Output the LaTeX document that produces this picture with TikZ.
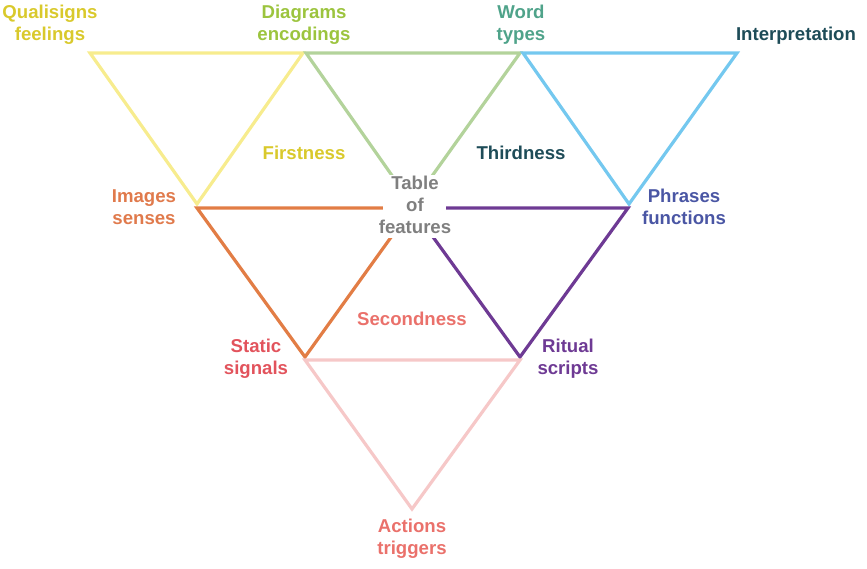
\documentclass[tikz,border=0pt]{standalone}
\usepackage{fontspec}
\setmainfont{Liberation Sans}
\definecolor{cYelLine}{HTML}{F7EC8E}
\definecolor{cYelText}{HTML}{D9C92C}
\definecolor{cGrnLine}{HTML}{B3D39B}
\definecolor{cGrnText}{HTML}{9CC43E}
\definecolor{cTeal}{HTML}{4FA38A}
\definecolor{cDark}{HTML}{1E4C58}
\definecolor{cBlueLine}{HTML}{74C8EF}
\definecolor{cIndigo}{HTML}{4A56A4}
\definecolor{cPurple}{HTML}{6E3A94}
\definecolor{cOrange}{HTML}{E27D45}
\definecolor{cOrText}{HTML}{E07A4C}
\definecolor{cRed}{HTML}{E2535C}
\definecolor{cSalmon}{HTML}{EA716B}
\definecolor{cPink}{HTML}{F6C8C8}
\definecolor{cGray}{HTML}{7F7F7F}
\begin{document}
\begin{tikzpicture}[x=1pt,y=-1pt,
  tri/.style={line width=3.2pt,line join=miter},
  lbl/.style={font=\fontsize{18.6}{22}\selectfont\bfseries,align=center,inner sep=0pt}]
\useasboundingbox (0,0) rectangle (867,568);
% triangles
\draw[tri,cYelLine] (90,53) -- (303,53) -- (197,204) -- cycle;
\draw[tri,cGrnLine] (306,53) -- (520,53) -- (412,204) -- cycle;
\draw[tri,cBlueLine] (523,53) -- (737,53) -- (629,204) -- cycle;
\draw[tri,cOrange] (197,208) -- (412,208) -- (305,357) -- cycle;
\draw[tri,cPurple] (412,208) -- (628,208) -- (520,357) -- cycle;
\draw[tri,cPink] (305,360) -- (520,360) -- (412,509) -- cycle;
% centre cover
\node[fill=white,minimum width=63pt,minimum height=63pt,inner sep=0pt] (cover) at (414.5,206.5) {};
\node[lbl,text=cGray] (table) at (415,205) {Table\\of\\features};
% labels
\node[lbl,text=cYelText] (quali) at (50,25) {Qualisigns\\feelings};
\node[lbl,text=cGrnText] (diag) at (304,25) {Diagrams\\encodings};
\node[lbl,text=cTeal] (word) at (521,25) {Word\\types};
\node[lbl,text=cDark] (interp) at (796,36) {Interpretation};
\node[lbl,text=cYelText] (first) at (304,153) {Firstness};
\node[lbl,text=cDark] (third) at (521,153) {Thirdness};
\node[lbl,text=cOrText] (images) at (144,207) {Images\\senses};
\node[lbl,text=cIndigo] (phrases) at (684,207) {Phrases\\functions};
\node[lbl,text=cSalmon] (second) at (412,319) {Secondness};
\node[lbl,text=cRed] (static) at (256,359) {Static\\signals};
\node[lbl,text=cPurple] (ritual) at (568,359) {Ritual\\scripts};
\node[lbl,text=cSalmon] (actions) at (412,539) {Actions\\triggers};
\end{tikzpicture}
\end{document}
